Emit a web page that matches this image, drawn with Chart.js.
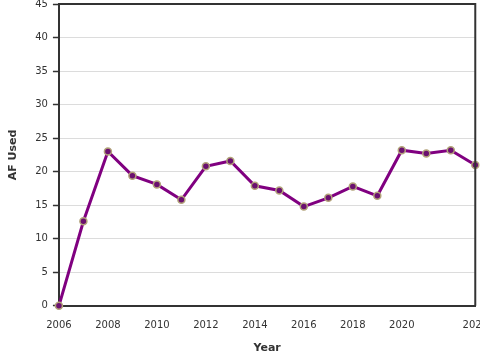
<!DOCTYPE html>
<html>
<head>
<meta charset="utf-8">
<script src="https://cdn.jsdelivr.net/npm/chart.js@4"></script>
<style>
html,body{margin:0;padding:0;overflow:hidden;background:#fff;}
#wrap{width:496px;height:367px;position:relative;margin-top:-7px;}
</style>
</head>
<body>
<div id="wrap"><canvas id="c"></canvas></div>
<script>
const years = [2006,2007,2008,2009,2010,2011,2012,2013,2014,2015,2016,2017,2018,2019,2020,2021,2022,2023];
const afUsed = [0,12.6,23.0,19.4,18.1,15.8,20.8,21.6,17.9,17.2,14.8,16.1,17.8,16.4,23.2,22.7,23.2,21.0];
const xTickValues = [2006,2008,2010,2012,2014,2016,2018,2020,2022,2023];
const xTickLabels = ['2006','2008','2010','2012','2014','2016','2018','2020','','2023'];
const yTickValues = [0,5,10,15,20,25,30,35,40,45];

const frame = {
  id:'frame',
  afterDraw(chart){
    const a = chart.chartArea, ctx = chart.ctx;
    ctx.save();
    ctx.strokeStyle = '#333';
    ctx.lineWidth = 2;
    ctx.beginPath();
    ctx.moveTo(a.left, a.top); ctx.lineTo(a.right, a.top); ctx.lineTo(a.right, a.bottom);
    ctx.stroke();
    ctx.restore();
  }
};

new Chart(document.getElementById('c'), {
  type:'line',
  data:{
    datasets:[{
      data: years.map((y,i)=>({x:y, y:afUsed[i]})),
      borderColor:'#800080',
      borderWidth:3,
      pointRadius:3.5,
      pointBackgroundColor:'#6b1070',
      pointBorderColor:'#b3a37a',
      pointBorderWidth:1.5,
      tension:0,
      clip:false
    }]
  },
  options:{
    responsive:true,
    maintainAspectRatio:false,
    animation:false,
    layout:{padding:{top:0,left:7,right:0,bottom:5}},
    plugins:{legend:{display:false},tooltip:{enabled:false}},
    scales:{
      x:{
        type:'linear', min:2006, max:2023,
        afterBuildTicks(s){ s.ticks = xTickValues.map(v=>({value:v})); },
        ticks:{
          autoSkip:false, maxRotation:0,
          color:'#333', font:{family:'DejaVu Sans', size:10},
          padding:8,
          callback:(v)=>{ const i = xTickValues.indexOf(v); return i>=0 ? xTickLabels[i] : ''; }
        },
        grid:{display:false, drawOnChartArea:false, drawTicks:true, tickLength:6, tickColor:'#333', tickWidth:1.5},
        border:{display:true, color:'#333', width:2},
        title:{display:true, text:'Year', color:'#333', font:{family:'DejaVu Sans', size:11, weight:'bold'}, padding:{top:2,bottom:0}}
      },
      y:{
        type:'linear', min:0, max:45,
        afterBuildTicks(s){ s.ticks = yTickValues.map(v=>({value:v})); },
        ticks:{color:'#333', font:{family:'DejaVu Sans', size:10}, padding:5},
        grid:{color:'#dcdcdc', lineWidth:1, tickLength:6, tickColor:'#333', tickWidth:1.5, z:-1},
        border:{display:true, color:'#333', width:2},
        title:{display:true, text:'AF Used', color:'#333', font:{family:'DejaVu Sans', size:11, weight:'bold'}, padding:{top:0,bottom:10}}
      }
    }
  },
  plugins:[frame]
});
</script>
</body>
</html>
